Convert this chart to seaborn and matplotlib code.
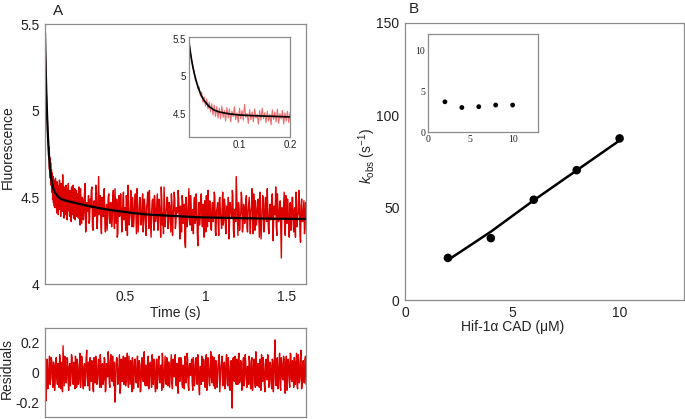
import numpy as np
import pandas as pd
import matplotlib
matplotlib.use("Agg")
import matplotlib.pyplot as plt
import seaborn as sns

# ---- Panel A: stopped-flow trace ----
# first 0.2 s sampled every 2.5 ms
fluor_early = [
    5.46, 5.31, 5.24, 5.11, 5.07, 4.95, 4.94, 4.84, 4.86, 4.74,
    4.79, 4.66, 4.73, 4.61, 4.70, 4.57, 4.66, 4.53, 4.64, 4.49,
    4.62, 4.47, 4.60, 4.45, 4.58, 4.44, 4.61, 4.46, 4.55, 4.41,
    4.59, 4.45, 4.57, 4.40, 4.54, 4.47, 4.60, 4.43, 4.52, 4.39,
    4.58, 4.44, 4.55, 4.42, 4.63, 4.46, 4.51, 4.38, 4.56, 4.43,
    4.53, 4.40, 4.57, 4.45, 4.50, 4.37, 4.55, 4.42, 4.58, 4.44,
    4.52, 4.39, 4.54, 4.41, 4.50, 4.36, 4.56, 4.43, 4.53, 4.40,
    4.57, 4.38, 4.51, 4.44, 4.55, 4.37, 4.52, 4.41, 4.54, 4.39,
]
# from 0.2 s on, sampled every 7 ms
fluor_late = [
    4.52, 4.38, 4.47, 4.55, 4.35, 4.49, 4.41, 4.58, 4.33, 4.46,
    4.51, 4.37, 4.44, 4.56, 4.31, 4.48, 4.40, 4.53, 4.36, 4.62,
    4.43, 4.34, 4.50, 4.39, 4.55, 4.30, 4.46, 4.41, 4.52, 4.35,
    4.47, 4.38, 4.54, 4.32, 4.45, 4.49, 4.29, 4.51, 4.40, 4.44,
    4.36, 4.53, 4.42, 4.31, 4.48, 4.57, 4.34, 4.45, 4.39, 4.50,
    4.33, 4.46, 4.41, 4.55, 4.30, 4.43, 4.49, 4.36, 4.52, 4.38,
    4.45, 4.28, 4.47, 4.40, 4.54, 4.34, 4.42, 4.49, 4.31, 4.46,
    4.39, 4.52, 4.35, 4.44, 4.27, 4.48, 4.41, 4.56, 4.33, 4.43,
    4.50, 4.36, 4.45, 4.30, 4.47, 4.39, 4.53, 4.32, 4.44, 4.41,
    4.49, 4.26, 4.42, 4.51, 4.35, 4.46, 4.21, 4.43, 4.38, 4.55,
    4.34, 4.45, 4.40, 4.29, 4.50, 4.37, 4.44, 4.22, 4.47, 4.39,
    4.52, 4.33, 4.43, 4.48, 4.30, 4.41, 4.54, 4.36, 4.45, 4.31,
    4.47, 4.39, 4.51, 4.28, 4.44, 4.35, 4.49, 4.40, 4.32, 4.53,
    4.37, 4.46, 4.29, 4.42, 4.50, 4.34, 4.45, 4.38, 4.52, 4.27,
    4.43, 4.62, 4.36, 4.47, 4.31, 4.41, 4.49, 4.33, 4.44, 4.39,
    4.51, 4.30, 4.46, 4.37, 4.42, 4.55, 4.29, 4.40, 4.48, 4.34,
    4.45, 4.38, 4.53, 4.26, 4.43, 4.47, 4.32, 4.50, 4.36, 4.41,
    4.29, 4.46, 4.39, 4.52, 4.33, 4.44, 4.56, 4.28, 4.42, 4.37,
    4.48, 4.15, 4.40, 4.45, 4.31, 4.51, 4.35, 4.43, 4.27, 4.47,
    4.38, 4.50, 4.30, 4.44, 4.53, 4.33, 4.41, 4.46, 4.24, 4.49,
    4.36, 4.48, 4.32,
]
# the samples in between (offset 3.5 ms)
fluor_late_b = [
    4.41, 4.56, 4.34, 4.44, 4.50, 4.37, 4.53, 4.30, 4.47, 4.42,
    4.35, 4.49, 4.54, 4.33, 4.46, 4.39, 4.57, 4.32, 4.48, 4.40,
    4.51, 4.29, 4.45, 4.53, 4.36, 4.42, 4.31, 4.50, 4.38, 4.47,
    4.33, 4.49, 4.40, 4.55, 4.35, 4.27, 4.46, 4.39, 4.52, 4.30,
    4.48, 4.37, 4.44, 4.51, 4.28, 4.42, 4.39, 4.54, 4.33, 4.45,
    4.40, 4.52, 4.29, 4.47, 4.36, 4.50, 4.34, 4.43, 4.30, 4.49,
    4.35, 4.44, 4.53, 4.32, 4.41, 4.27, 4.48, 4.38, 4.51, 4.36,
    4.46, 4.31, 4.49, 4.40, 4.56, 4.34, 4.29, 4.45, 4.39, 4.50,
    4.32, 4.47, 4.37, 4.52, 4.28, 4.43, 4.49, 4.35, 4.41, 4.54,
    4.36, 4.45, 4.30, 4.48, 4.39, 4.24, 4.50, 4.33, 4.46, 4.37,
    4.51, 4.31, 4.43, 4.47, 4.35, 4.52, 4.29, 4.40, 4.34, 4.49,
    4.38, 4.46, 4.27, 4.44, 4.51, 4.33, 4.40, 4.48, 4.32, 4.45,
    4.36, 4.53, 4.30, 4.42, 4.47, 4.28, 4.50, 4.37, 4.44, 4.34,
    4.49, 4.32, 4.45, 4.38, 4.26, 4.47, 4.41, 4.54, 4.31, 4.43,
    4.36, 4.50, 4.28, 4.44, 4.39, 4.53, 4.30, 4.46, 4.35, 4.48,
    4.33, 4.42, 4.50, 4.29, 4.45, 4.37, 4.52, 4.31, 4.44, 4.40,
    4.49, 4.27, 4.41, 4.35, 4.51, 4.30, 4.46, 4.38, 4.55, 4.32,
    4.43, 4.37, 4.50, 4.25, 4.45, 4.40, 4.33, 4.52, 4.36, 4.47,
    4.30, 4.44, 4.38, 4.53, 4.28, 4.42, 4.49, 4.34, 4.46, 4.31,
    4.50, 4.35, 4.43, 4.27, 4.47, 4.39, 4.54, 4.30, 4.45, 4.36,
    4.42, 4.29, 4.47,
]
fit_time = [0, 0.005, 0.01, 0.015, 0.02, 0.025, 0.03, 0.035, 0.04, 0.05, 0.06,
            0.08, 0.1, 0.133, 0.2, 0.27, 0.34, 0.42, 0.54, 0.65, 0.75, 0.85,
            0.95, 1.2, 1.4, 1.62]
fit_fluor = [5.45, 5.22, 5.05, 4.92, 4.82, 4.74, 4.68, 4.64, 4.60, 4.555, 4.53,
             4.505, 4.49, 4.48, 4.465, 4.45, 4.437, 4.425, 4.41, 4.40, 4.395, 4.39,
             4.385, 4.38, 4.377, 4.375]

# residuals, sampled every 7 ms
residuals = [
    0.06, -0.19, 0.09, -0.07, 0.11, -0.04, 0.08, -0.10, 0.05, -0.06,
    0.10, -0.08, 0.03, 0.12, -0.11, 0.07, 0.18, -0.09, 0.04, -0.05,
    0.09, -0.12, 0.06, -0.03, 0.10, -0.08, 0.02, 0.11, -0.10, 0.05,
    -0.07, 0.13, -0.04, 0.08, -0.11, 0.06, -0.02, 0.15, -0.09, 0.03,
    0.10, -0.06, 0.07, -0.13, 0.04, 0.11, -0.08, 0.05, -0.03, 0.12,
    -0.10, 0.06, -0.05, 0.09, -0.12, 0.03, 0.14, -0.07, 0.08, -0.04,
    0.11, -0.09, -0.20, 0.05, 0.09, -0.06, 0.12, -0.11, 0.04, 0.07,
    -0.08, 0.10, -0.05, 0.13, -0.10, 0.02, 0.08, -0.13, 0.06, -0.03,
    0.09, -0.07, 0.11, -0.04, 0.05, -0.12, 0.10, -0.06, 0.14, -0.09,
    0.03, 0.08, -0.11, 0.06, -0.05, 0.12, -0.08, 0.04, -0.13, 0.09,
    -0.04, 0.11, -0.07, 0.05, 0.13, -0.10, 0.02, -0.06, 0.10, -0.09,
    0.07, -0.03, 0.12, -0.11, 0.04, 0.09, -0.08, 0.06, -0.14, 0.10,
    -0.05, 0.08, -0.10, 0.03, 0.11, -0.07, 0.13, -0.09, 0.05, -0.02,
    0.09, -0.12, 0.06, -0.04, 0.10, -0.08, 0.07, -0.15, 0.04, 0.11,
    -0.06, 0.08, -0.10, 0.12, -0.03, 0.05, -0.09, 0.14, -0.07, 0.03,
    0.10, -0.11, 0.06, -0.05, 0.09, -0.13, 0.04, 0.11, -0.08, 0.07,
    -0.04, 0.12, -0.09, 0.05, -0.12, 0.08, -0.24, 0.10, -0.06, 0.03,
    0.09, -0.08, 0.13, -0.05, 0.06, -0.11, 0.10, -0.03, 0.07, -0.10,
    0.04, 0.11, -0.07, 0.08, -0.12, 0.05, -0.04, 0.14, -0.09, 0.06,
    -0.10, 0.07, 0.12, -0.06, 0.03, -0.13, 0.09, -0.05, 0.11, -0.08,
    0.05, -0.11, 0.08, -0.04, 0.22, -0.09, 0.10, -0.07, 0.13, -0.12,
    0.06, -0.05, 0.09, -0.14, 0.11, -0.03, 0.07, -0.10, 0.12, -0.06,
    0.04, 0.10, -0.08, 0.13, -0.11, 0.06, -0.04, 0.15, -0.09, 0.08,
    -0.07, 0.11,
]
# residuals in between (offset 3.5 ms)
residuals_b = [
    -0.05, 0.08, -0.11, 0.04, -0.08, 0.10, -0.03, 0.07, -0.12, 0.09,
    -0.04, 0.06, -0.10, 0.08, 0.03, -0.13, 0.05, 0.11, -0.07, 0.10,
    -0.06, 0.04, -0.09, 0.12, -0.05, 0.07, -0.11, 0.03, 0.09, -0.08,
    0.05, -0.10, 0.11, -0.06, 0.03, -0.09, 0.10, -0.04, 0.07, -0.12,
    -0.03, 0.08, -0.11, 0.10, -0.07, 0.04, -0.05, 0.09, -0.10, 0.06,
    0.04, -0.08, 0.10, -0.13, 0.06, -0.03, 0.08, -0.10, 0.12, -0.06,
    -0.05, 0.07, -0.12, 0.10, -0.08, 0.03, -0.14, 0.09, -0.06, 0.11,
    0.04, -0.09, 0.07, -0.05, 0.11, -0.08, 0.05, 0.10, -0.11, 0.08,
    -0.06, 0.03, -0.10, 0.08, -0.13, 0.06, -0.04, 0.09, -0.07, 0.05,
    -0.09, 0.11, -0.04, 0.07, -0.10, 0.05, 0.09, -0.08, 0.06, -0.11,
    0.08, -0.05, 0.03, -0.12, 0.09, -0.06, 0.11, -0.08, 0.04, 0.07,
    -0.10, 0.05, -0.07, 0.09, -0.03, 0.12, -0.09, 0.04, 0.08, -0.06,
    0.10, -0.08, 0.05, -0.11, 0.07, -0.04, 0.09, -0.12, 0.06, 0.03,
    -0.07, 0.10, -0.09, 0.05, -0.06, 0.12, -0.10, 0.04, -0.08, 0.06,
    0.09, -0.04, 0.07, -0.12, 0.10, -0.07, 0.05, -0.03, 0.11, -0.09,
    -0.06, 0.08, -0.10, 0.04, 0.12, -0.05, 0.07, -0.09, 0.05, -0.11,
    0.06, -0.07, 0.10, -0.10, 0.04, -0.15, 0.08, -0.05, 0.11, -0.08,
    -0.04, 0.10, -0.07, 0.08, -0.12, 0.06, -0.09, 0.12, -0.05, 0.04,
    -0.08, 0.07, -0.11, 0.10, -0.05, 0.09, -0.10, 0.06, 0.03, -0.07,
    0.09, -0.12, 0.05, 0.10, -0.08, 0.06, -0.04, 0.12, -0.10, 0.07,
    -0.06, 0.09, -0.13, 0.12, -0.05, 0.08, -0.11, 0.06, -0.09, 0.10,
    -0.04, 0.11, -0.08, 0.05, -0.12, 0.09, -0.06, 0.13, -0.05, 0.08,
    -0.10, 0.07, 0.03, -0.09, 0.12, -0.07, 0.10, -0.11, 0.05, -0.06,
    0.09, -0.08,
]

# ---- Panel B: k_obs vs Hif-1a CAD concentration ----
cad_um = [2, 4, 6, 8, 10]
kobs = [22.8, 33.5, 54.3, 70.3, 87.5]
fit_cad = [2, 4, 6, 8, 10]
fit_kobs = [21.6, 37.0, 54.0, 70.2, 86.4]
# inset: second (slow) rate
kslow = [3.7, 3.0, 3.1, 3.3, 3.3]

t_early = np.arange(len(fluor_early)) * 0.0025
t_late = 0.2 + np.arange(len(fluor_late)) * 0.007
t_late_b = 0.2035 + np.arange(len(fluor_late_b)) * 0.007
trace = pd.DataFrame({"t": np.concatenate([t_early, t_late, t_late_b]),
                      "F": fluor_early + fluor_late + fluor_late_b})
trace = trace.sort_values("t")
fit_df = pd.DataFrame({"t": fit_time, "F": fit_fluor})
res_df = pd.DataFrame({"t": np.concatenate([np.arange(len(residuals)) * 0.007,
                                            0.0035 + np.arange(len(residuals_b)) * 0.007]),
                       "r": residuals + residuals_b}).sort_values("t")
pts = pd.DataFrame({"c": cad_um, "k": kobs, "k2": kslow})
fitb = pd.DataFrame({"c": fit_cad, "k": fit_kobs})

sns.set_style("white")
plt.rcParams["font.family"] = ["Liberation Sans", "DejaVu Sans"]
plt.rcParams["mathtext.fontset"] = "custom"
plt.rcParams["mathtext.rm"] = "Liberation Sans"
plt.rcParams["mathtext.it"] = "Liberation Sans:italic"

W, H = 685, 419
fig = plt.figure(figsize=(W / 100, H / 100), dpi=100)


def box(x0, y0, x1, y1):
    return [x0 / W, 1 - y1 / H, (x1 - x0) / W, (y1 - y0) / H]


def style(ax, size=10, length=4):
    for s in ax.spines.values():
        s.set_color("#8c8c8c")
        s.set_linewidth(0.9)
        s.set_visible(True)
    ax.tick_params(direction="in", length=length, width=0.8, color="#8c8c8c",
                   labelsize=size, labelcolor="#222222", pad=4)


red = "#dd0000"

# main trace
axA = fig.add_axes(box(45, 24, 306, 284))
sns.lineplot(data=trace, x="t", y="F", ax=axA, color=red, lw=1.0, estimator=None,
             sort=False)
sns.lineplot(data=fit_df, x="t", y="F", ax=axA, color="black", lw=1.6, estimator=None)
axA.set_xlim(0, 1.62)
axA.set_ylim(4, 5.5)
axA.set_xticks([0.5, 1, 1.5], ["0.5", "1", "1.5"])
axA.set_yticks([4, 4.5, 5, 5.5], ["4", "4.5", "5", "5.5"])
axA.set_xlabel("")
axA.set_ylabel("")
style(axA, 10)

# inset of first 0.2 s
axAi = fig.add_axes(box(189, 37, 290, 137))
sns.lineplot(data=trace, x="t", y="F", ax=axAi, color="#e84848", lw=0.8,
             alpha=0.8, estimator=None, sort=False)
sns.lineplot(data=fit_df, x="t", y="F", ax=axAi, color="black", lw=1.2, estimator=None)
axAi.set_xlim(0, 0.2)
axAi.set_ylim(4.2, 5.52)
axAi.set_xticks([0.1, 0.2], ["0.1", "0.2"])
axAi.set_yticks([4.5, 5, 5.5], ["4.5", "5", "5.5"])
axAi.set_xlabel("")
axAi.set_ylabel("")
style(axAi, 7, 2.5)
axAi.tick_params(pad=2)

# residuals
axR = fig.add_axes(box(45, 328, 306, 417))
sns.lineplot(data=res_df, x="t", y="r", ax=axR, color=red, lw=1.0, estimator=None,
             sort=False)
axR.set_xlim(0, 1.62)
axR.set_ylim(-0.3, 0.3)
axR.set_xticks([0.5, 1, 1.5], [])
axR.set_yticks([-0.2, 0, 0.2], ["-0.2", "0", "0.2"])
axR.set_xlabel("")
axR.set_ylabel("")
style(axR, 10)

# panel B main
axB = fig.add_axes(box(405, 23, 684, 300))
sns.lineplot(data=fitb, x="c", y="k", ax=axB, color="black", lw=1.8, estimator=None)
sns.scatterplot(data=pts, x="c", y="k", ax=axB, color="black", s=38,
                edgecolor="none", zorder=3)
axB.set_xlim(0, 13)
axB.set_ylim(0, 150)
axB.set_xticks([0, 5, 10], ["0", "5", "10"])
axB.set_yticks([0, 50, 100, 150], ["0", "50", "100", "150"])
axB.set_xlabel("")
axB.set_ylabel("")
style(axB, 10)

# panel B inset
axBi = fig.add_axes(box(428, 34, 538, 132))
sns.scatterplot(data=pts, x="c", y="k2", ax=axBi, color="black", s=12,
                edgecolor="none")
axBi.set_xlim(0, 13)
axBi.set_ylim(0, 12)
axBi.set_xticks([0, 5, 10], ["0", "5", "10"])
axBi.set_yticks([0, 5, 10], ["0", "5", "10"])
axBi.set_xlabel("")
axBi.set_ylabel("")
style(axBi, 7, 2.5)
axBi.tick_params(pad=2)
for lab in axBi.get_xticklabels() + axBi.get_yticklabels():
    lab.set_family("Liberation Serif")


# labels
def ftext(x, y, s, size=10, **kw):
    fig.text(x / W, 1 - y / H, s, ha="center", va="center", fontsize=size,
             color="#222222", **kw)


ftext(58, 11, "A", size=11)
ftext(414, 9, "B", size=11)
ftext(8, 147, "Fluorescence", rotation=90)
ftext(175, 313, "Time (s)")
ftext(7, 368, "Residuals", rotation=90)
ftext(513, 327, "Hif-1α CAD (μM)")
ftext(367, 156, r"$k_{\mathrm{obs}}$ (s$^{-1}$)", rotation=90)

fig.savefig("out.png", dpi=100)
